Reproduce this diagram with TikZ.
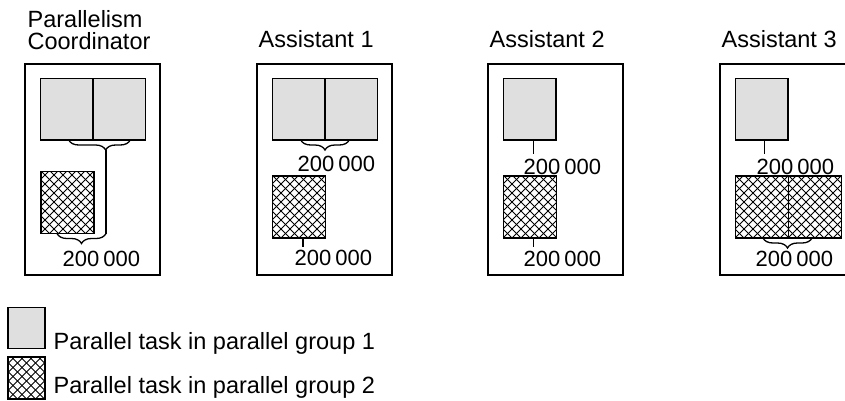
\documentclass[tikz,border=0pt]{standalone}
\usepackage{fontspec}
\setmainfont{Liberation Sans}
\usetikzlibrary{positioning,decorations.pathreplacing}

\begin{document}
\begin{tikzpicture}[x=1pt, y=-1pt, line width=1.3pt,
                    font=\fontsize{23.5}{22}\selectfont]
\tikzset{
    FR/.style={draw, line width=1.4pt, minimum width=135pt, minimum height=211pt,
               inner sep=0pt, outer sep=0pt},
    GT/.style={draw, line width=1.6pt, fill=gray!25, minimum width=52.5pt, minimum height=61.5pt,
               inner sep=0pt, outer sep=0pt},
    HL/.style={line width=0.9pt},
    HT/.style={draw, line width=1.6pt, minimum width=53pt, minimum height=62pt,
               inner sep=0pt, outer sep=0pt,
               path picture={
                 \foreach \k in {-14,...,14} {
                   \draw[HL] ([xshift=\k*9pt]path picture bounding box.south) -- ++(80pt,80pt);
                   \draw[HL] ([xshift=\k*9pt]path picture bounding box.south) -- ++(-80pt,80pt);
                 }}},
    TTL/.style={anchor=south west, align=left, inner sep=0pt},
    NUM/.style={anchor=north west, inner sep=0pt, font=\fontsize{22}{22}\selectfont},
    BRC/.style={decorate, decoration={brace, mirror, amplitude=10pt}},
    LGT/.style={anchor=base west, inner sep=0pt},
}
\useasboundingbox (0,0) rectangle (845,400);

%-- Parallelism Coordinator --
\node[FR] (pcF) at (92.5,169.5) {};
\node[TTL] (pcT) at (27,50) {Parallelism\\Coordinator};
\node[GT] (pcG1) at (66.75,109.25) {};
\node[GT, right=0pt of pcG1] (pcG2) {};
\node[HT] (pcH) at (67.5,202.5) {};
\coordinate (pcK) at (106,150);                       % tip of upper brace
\draw[BRC, decoration={aspect=0.6}] ([xshift=2pt]pcG1.south) -- ([xshift=11pt]pcG2.south);
\draw (pcK) -- (pcK |- pcH.south);
\draw[BRC] ([xshift=16pt]pcH.south west) -- (pcK |- pcH.south);
\node[NUM] (pcL) at (62,250) {200\kern4pt000};

%-- Assistant 1 --
\node[FR] (a1F) at (324.5,169.5) {};
\node[TTL] (a1T) at (258,48) {Assistant 1};
\node[GT] (a1G1) at (298.75,109.25) {};
\node[GT, right=0pt of a1G1] (a1G2) {};
\node[HT] (a1H) at (299,207) {};
\draw[BRC] ([xshift=2pt]a1G1.south) -- ([xshift=-2pt]a1G2.south);
\node[NUM] (a1GL) at (297,155) {200\kern4pt000};
\draw ([xshift=4pt]a1H.south) -- ++(0,9);
\node[NUM] (a1HL) at (294,249) {200\kern4pt000};

%-- Assistant 2 --
\node[FR] (a2F) at (555.5,169.5) {};
\node[TTL] (a2T) at (489,48) {Assistant 2};
\node[GT] (a2G) at (529.75,109.25) {};
\node[HT] (a2H) at (530,207) {};
\draw ([xshift=3.5pt]a2G.south) -- ++(0,14);
\node[NUM] (a2GL) at (523,158) {200\kern4pt000};
\draw ([xshift=3.5pt]a2H.south) -- ++(0,9);
\node[NUM] (a2HL) at (523,250) {200\kern4pt000};

%-- Assistant 3 (frame runs off the right edge) --
\node[FR] (a3F) at (787.5,169.5) {};
\node[TTL] (a3T) at (721,48) {Assistant 3};
\node[GT] (a3G) at (761.75,109.25) {};
\node[HT] (a3H1) at (762,207) {};
\node[HT, right=0pt of a3H1] (a3H2) {};
\draw[line width=1.6pt] (a3H1.north east) -- (a3H1.south east);   % shared edge
\draw ([xshift=2.5pt]a3G.south) -- ++(0,14);
\node[NUM] (a3GL) at (756,158) {200\kern4pt000};
\draw[BRC] ([xshift=1pt]a3H1.south) -- ([xshift=-3pt]a3H2.south);
\node[NUM] (a3HL) at (755,250) {200\kern4pt000};

%-- Legend --
\node[GT, minimum width=37pt, minimum height=41pt] (lgG) at (26.5,328) {};
\node[LGT] (lgGT) at (53,349) {Parallel task in parallel group 1};
\node[HT, minimum width=37pt, minimum height=42pt] (lgH) at (26.5,378) {};
\node[LGT] (lgHT) at (53,393) {Parallel task in parallel group 2};

\end{tikzpicture}
\end{document}
